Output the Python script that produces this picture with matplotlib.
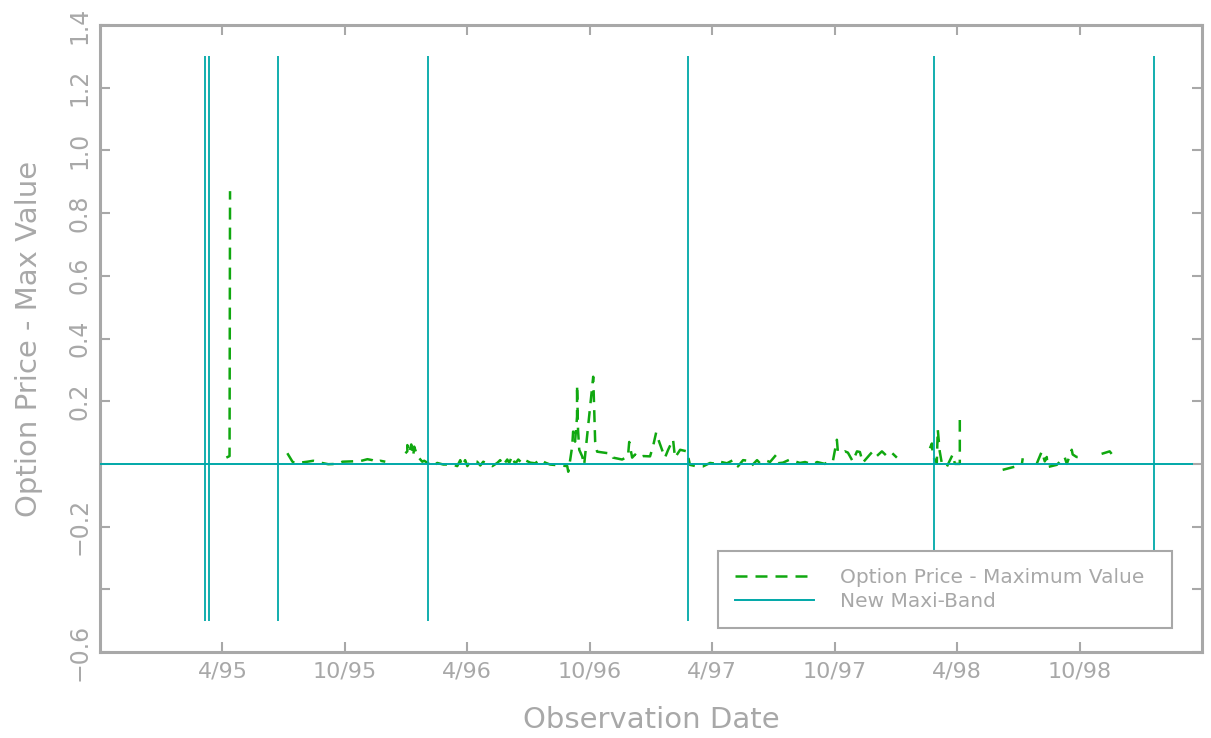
import numpy as np
import matplotlib
matplotlib.use("Agg")
import matplotlib.pyplot as plt
from matplotlib.lines import Line2D

nan = np.nan

# Observation dates (decimal years) and option price minus maximum value
obs_year = [
    1995.266, 1995.279, 1995.281, nan,
    1995.515, 1995.536, 1995.548, 1995.597, 1995.621, 1995.650, 1995.682,
    1995.719, 1995.740, 1995.813, 1995.842, 1995.862, 1995.882, 1995.895,
    1995.915, nan,
    1995.997, 1996.005, 1996.005, 1996.013, 1996.021, 1996.029, 1996.033,
    1996.046, 1996.066, 1996.074, 1996.086, 1996.111, 1996.127, 1996.152,
    1996.188, 1996.209, 1996.221, 1996.229, 1996.241, 1996.250, 1996.262,
    1996.290, 1996.303, 1996.315, 1996.352, 1996.372, 1996.384, 1996.396,
    1996.413, 1996.421, 1996.433, 1996.445, 1996.458, 1996.474, 1996.486,
    1996.507, 1996.527, 1996.547, 1996.568, 1996.588, 1996.658, 1996.662,
    1996.670, 1996.678, 1996.682, 1996.690, 1996.698, 1996.698, 1996.702,
    1996.707, 1996.719, 1996.727, 1996.764, 1996.768, 1996.772, 1996.780,
    1996.825, 1996.841, 1996.845, 1996.882, 1996.906, 1996.911, 1996.923,
    1996.935, 1996.947, 1996.968, 1996.996, 1997.008, 1997.021, 1997.029,
    1997.045, 1997.057, 1997.070, 1997.090, 1997.098, 1997.119, 1997.147,
    1997.159, 1997.188, 1997.212, 1997.241, 1997.270, 1997.282, 1997.310,
    1997.335, 1997.355, 1997.376, 1997.396, 1997.412, 1997.433, 1997.445,
    1997.465, 1997.486, 1997.510, 1997.518, 1997.539, 1997.567, 1997.588,
    1997.608, 1997.629, 1997.661, 1997.678, 1997.710, 1997.731, 1997.743,
    1997.759, 1997.763, 1997.780, 1997.792, 1997.804, 1997.824, 1997.841,
    1997.853, 1997.865, 1997.894, 1997.906, 1997.922, 1997.943, 1997.963,
    1997.984, 1998.004, nan,
    1998.139, 1998.147, 1998.151, 1998.167, 1998.171, 1998.179, 1998.188,
    1998.208, 1998.228, 1998.232, 1998.241, 1998.261, 1998.261, nan,
    1998.436, 1998.514, 1998.518, nan,
    1998.575, 1998.579, 1998.596, 1998.608, 1998.616, 1998.620, 1998.657,
    1998.689, 1998.698, 1998.718, 1998.722, 1998.738, 1998.751, nan,
    1998.840, 1998.873, 1998.881,
]
opt_minus_max = [
    0.020, 0.025, 0.870, nan,
    0.034, 0.007, 0.002, 0.007, 0.010, 0.004, -0.001,
    0.000, 0.007, 0.009, 0.015, 0.012, 0.005, 0.010,
    0.007, nan,
    0.034, 0.040, 0.060, 0.035, 0.062, 0.025, 0.055,
    0.025, 0.007, 0.010, 0.004, -0.007, 0.003, -0.002,
    -0.002, -0.007, 0.012, -0.007, 0.012, -0.007, 0.007,
    0.007, -0.005, 0.007, -0.007, 0.003, 0.012, -0.005,
    0.014, 0.003, 0.025, 0.000, 0.014, 0.002, 0.012,
    0.004, 0.002, 0.014, 0.004, -0.002, -0.007, -0.025,
    0.013, 0.055, 0.103, 0.071, 0.151, 0.252, 0.109,
    0.045, 0.024, -0.003, 0.278, 0.170, 0.071, 0.039,
    0.034, 0.030, 0.020, 0.014, 0.024, 0.070, 0.020,
    0.030, 0.020, 0.025, 0.024, 0.055, 0.100, 0.080,
    0.045, 0.020, 0.045, 0.078, 0.020, 0.045, 0.040,
    -0.003, -0.008, -0.008, 0.003, 0.000, 0.007, 0.002,
    0.012, -0.008, 0.012, 0.010, -0.005, 0.012, 0.002,
    0.012, 0.006, 0.028, 0.002, 0.004, 0.014, 0.008,
    0.003, 0.006, -0.002, 0.006, 0.000, 0.012, 0.010,
    0.077, 0.040, 0.035, 0.040, 0.036, 0.008, 0.040,
    0.038, 0.004, 0.030, 0.040, 0.025, 0.040, 0.025,
    0.035, 0.020, nan,
    0.050, 0.065, 0.023, 0.003, 0.110, 0.040, 0.000,
    -0.009, 0.023, 0.030, 0.000, 0.000, 0.140, nan,
    -0.019, -0.003, 0.018, nan,
    0.000, 0.008, 0.040, 0.008, 0.022, -0.010, -0.003,
    0.022, 0.000, 0.045, 0.030, 0.022, 0.022, nan,
    0.032, 0.040, 0.032,
]

# New maxi-band dates (decimal years)
band_year = [1995.180, 1995.194, 1995.478, 1996.090, 1997.151, 1998.155, 1999.053]
band_low, band_high = -0.5, 1.3
zero_line_x = [1994.75, 1999.21]
zero_line_y = [0.0, 0.0]

xtick_pos = [1995.25, 1995.75, 1996.25, 1996.75, 1997.25, 1997.75, 1998.25, 1998.75]
xtick_lab = ["4/95", "10/95", "4/96", "10/96", "4/97", "10/97", "4/98", "10/98"]
ytick_pos = [-0.6, -0.4, -0.2, 0.0, 0.2, 0.4, 0.6, 0.8, 1.0, 1.2, 1.4]
ytick_lab = ["\u22120.6", "", "\u22120.2", "", "0.2", "0.4", "0.6", "0.8", "1.0", "1.2", "1.4"]

GREY = "#a8a8a8"
GREEN = "#10a810"
CYAN = "#00a8a8"

fig = plt.figure(figsize=(12.11, 7.38), dpi=100)
ax = fig.add_axes([100 / 1211, 1 - 652 / 738, 1102 / 1211, 627 / 738])

green_ls = (0, (4.8, 3.2))
ax.plot(obs_year, opt_minus_max, color=GREEN, lw=1.8,
        linestyle=green_ls, dash_capstyle="butt", zorder=2)
ax.vlines(band_year, band_low, band_high, color=CYAN, lw=1.3, zorder=3)
ax.plot(zero_line_x, zero_line_y, color=CYAN, lw=1.4, zorder=3)

ax.set_xlim(1994.75, 1999.25)
ax.set_ylim(-0.6, 1.4)

ax.set_xticks(xtick_pos)
ax.set_xticklabels(xtick_lab)
ax.set_yticks(ytick_pos)
ax.set_yticklabels(ytick_lab, rotation=90, va="center")

for s in ax.spines.values():
    s.set_color(GREY)
    s.set_linewidth(2.2)

ax.tick_params(axis="both", direction="in", length=7, width=1.5, color=GREY,
               top=True, right=True, labelcolor=GREY)
ax.tick_params(axis="x", labelsize=16, pad=7)
ax.tick_params(axis="y", labelsize=17, pad=6)

ax.set_xlabel("Observation Date", fontsize=21, color=GREY, va="baseline")
ax.xaxis.set_label_coords(0.5, (652 - 728) / 627)
ax.set_ylabel("Option Price - Max Value", fontsize=21, color=GREY, va="baseline")
ax.yaxis.set_label_coords((37 - 100) / 1102, 0.5)

handles = [
    Line2D([], [], color=GREEN, lw=1.8, linestyle=green_ls, dash_capstyle="butt"),
    Line2D([], [], color=CYAN, lw=1.4),
]
leg = ax.legend(handles, ["Option Price - Maximum Value", "New Maxi-Band"],
                loc="upper left", bbox_to_anchor=(0.561, 0.043, 0.412, 0.118),
                mode="expand", fontsize=14.5, labelcolor=GREY, frameon=True,
                fancybox=False, framealpha=1, edgecolor=GREY, borderpad=0.85,
                handlelength=3.9, handletextpad=1.3, labelspacing=0.25,
                borderaxespad=0)
leg.get_frame().set_linewidth(1.5)
leg.set_zorder(5)

fig.savefig("out.png", dpi=100)
